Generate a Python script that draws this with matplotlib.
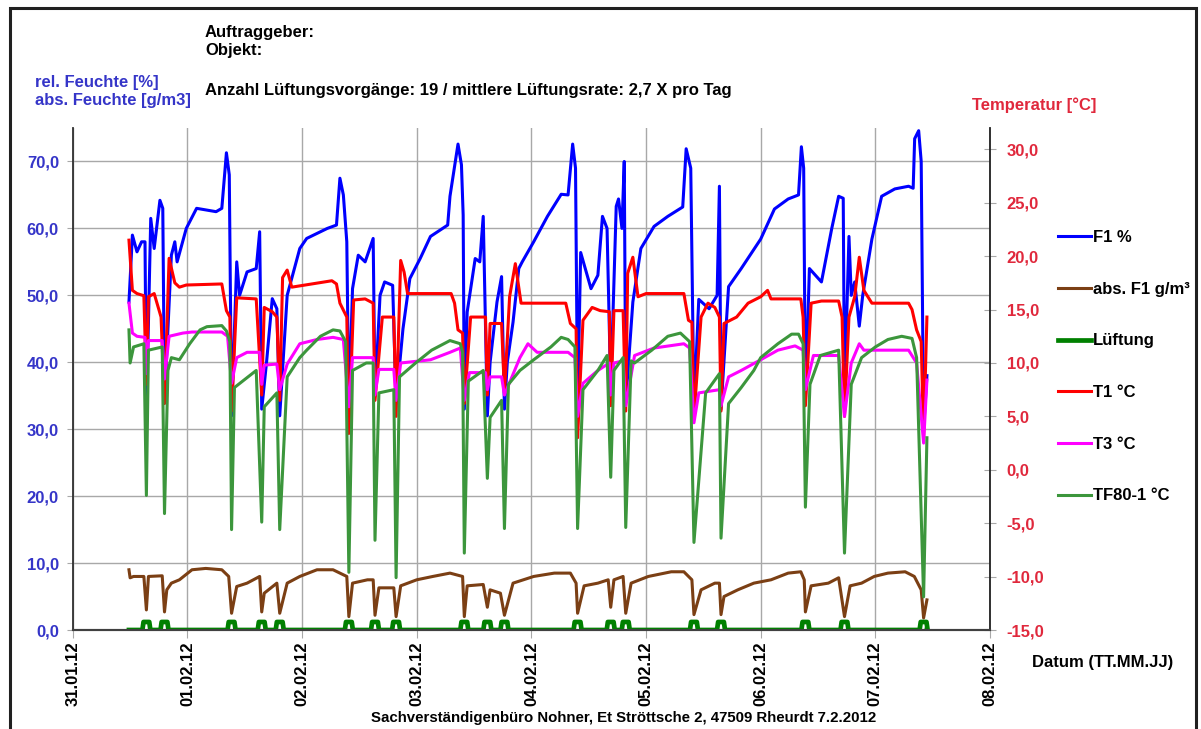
import matplotlib
matplotlib.use("Agg")
import matplotlib.pyplot as plt
from matplotlib.patches import Rectangle
from matplotlib.ticker import FixedLocator, FuncFormatter

plt.rcParams['font.family'] = ['Liberation Sans', 'DejaVu Sans']
plt.rcParams['font.weight'] = 'bold'

# x axis: days after 31.01.12 00:00
date_labels = ["31.01.12", "01.02.12", "02.02.12", "03.02.12", "04.02.12",
               "05.02.12", "06.02.12", "07.02.12", "08.02.12"]

# ventilation events (Lüftung), days
vent_times = [0.642, 0.80, 1.385, 1.648, 1.805, 2.408, 2.636, 2.82, 3.415, 3.616,
              3.765, 4.403, 4.692, 4.823, 5.418, 5.654, 6.39, 6.731, 7.421]
vent_level = 1.2

# F1 rel. humidity [%]
t_f1 = [0.49, 0.52, 0.56, 0.60, 0.63, 0.642, 0.66, 0.68, 0.71, 0.76, 0.785,
        0.80, 0.86, 0.89, 0.91, 0.99, 1.08, 1.25, 1.30, 1.34, 1.365,
        1.385, 1.43, 1.455, 1.52, 1.60, 1.63,
        1.648, 1.69, 1.74, 1.78,
        1.805, 1.87, 1.98, 2.04, 2.22, 2.30, 2.33, 2.36, 2.39,
        2.408, 2.44, 2.49, 2.55, 2.62,
        2.636, 2.68, 2.72, 2.79,
        2.82, 2.88, 2.94, 3.03, 3.12, 3.27, 3.29, 3.36, 3.39, 3.405,
        3.415, 3.44, 3.51, 3.55, 3.58,
        3.616, 3.64, 3.70, 3.74,
        3.765, 3.79, 3.84, 3.89, 3.92, 4.02, 4.14, 4.26, 4.32, 4.36, 4.385,
        4.403, 4.43, 4.52, 4.58, 4.62, 4.66,
        4.692, 4.74, 4.76, 4.79, 4.81,
        4.823, 4.885, 4.955, 5.07, 5.19, 5.32, 5.35, 5.39,
        5.418, 5.46, 5.55, 5.62, 5.64,
        5.654, 5.72, 5.83, 6.00, 6.12, 6.24, 6.33, 6.355, 6.375,
        6.39, 6.425, 6.53, 6.62, 6.68, 6.72,
        6.731, 6.77, 6.79, 6.82, 6.86, 6.89, 6.97, 7.055, 7.17, 7.29, 7.33, 7.343, 7.378, 7.40,
        7.421, 7.45]
f1 = [49, 59, 56.5, 58, 58, 33, 46, 61.5, 57, 64.2, 63,
      34, 56, 58, 55, 60, 63, 62.5, 63, 71.3, 68,
      32, 55, 50, 53.5, 54, 59.5,
      33, 40, 49.5, 48,
      32, 50, 57, 58.5, 60, 60.5, 67.5, 65, 58,
      33, 51, 56, 55, 58.5,
      35, 50, 52, 51.5,
      34, 45, 52.5, 55.5, 58.8, 60.5, 64.8, 72.6, 69.5, 62,
      33, 47.5, 55.5, 55, 61.8,
      32, 40, 49, 52.8,
      33, 40, 46, 54, 55, 58, 61.8, 65.1, 65, 72.6, 69,
      33, 56.4, 51, 53, 61.8, 60,
      36, 63.3, 64.4, 60, 70,
      34, 49, 57, 60.3, 61.8, 63.2, 71.9, 69,
      33, 49.4, 48, 50, 66.3,
      33, 51.3, 54, 58.4, 62.9, 64.4, 65, 72.2, 69,
      34, 54, 52, 60, 64.8, 64.5,
      35, 58.8, 50, 52, 45.4, 50, 58.4, 64.8, 65.9, 66.3, 66, 73.4, 74.6, 70,
      30, 38]

# abs. F1 [g/m³]
t_abs = [0.49, 0.50, 0.53, 0.62, 0.642, 0.66, 0.78,
         0.80, 0.82, 0.86, 0.93, 1.04, 1.16, 1.30, 1.36,
         1.385, 1.43, 1.52, 1.63,
         1.648, 1.67, 1.78,
         1.805, 1.87, 1.98, 2.13, 2.27, 2.39,
         2.408, 2.44, 2.57, 2.62,
         2.636, 2.67, 2.80,
         2.82, 2.86, 3.00, 3.14, 3.29, 3.40,
         3.415, 3.44, 3.58,
         3.616, 3.64, 3.73,
         3.765, 3.84, 4.02, 4.20, 4.34, 4.39,
         4.403, 4.46, 4.58, 4.67,
         4.692, 4.72, 4.80,
         4.823, 4.87, 5.02, 5.22, 5.33, 5.40,
         5.418, 5.48, 5.60, 5.64,
         5.654, 5.68, 5.80, 5.94, 6.09, 6.24, 6.35, 6.38,
         6.39, 6.44, 6.59, 6.68,
         6.731, 6.78, 6.88, 6.99, 7.11, 7.26, 7.34, 7.40,
         7.421, 7.45]
abs_f1 = [9.0, 7.8, 8.0, 8.0, 3.0, 8.0, 8.1,
          2.7, 6.0, 7.0, 7.5, 9.0, 9.2, 9.0, 8.0,
          2.5, 6.5, 7.0, 8.0,
          2.7, 5.5, 7.0,
          2.5, 7.0, 8.0, 9.0, 9.0, 8.0,
          2.0, 7.0, 7.5, 7.5,
          2.2, 6.3, 6.3,
          2.0, 6.6, 7.5, 8.0, 8.5, 8.0,
          2.0, 6.6, 6.8,
          3.4, 6.0, 5.5,
          2.2, 7.0, 8.0, 8.5, 8.5, 7.0,
          2.5, 6.6, 7.0, 7.5,
          3.4, 7.5, 8.0,
          2.5, 7.0, 8.0, 8.7, 8.7, 7.5,
          2.3, 6.0, 7.0, 7.0,
          2.3, 5.0, 6.0, 7.0, 7.5, 8.5, 8.7, 7.5,
          2.7, 6.6, 7.0, 7.8,
          2.0, 6.6, 7.0, 8.0, 8.5, 8.7, 8.0, 6.0,
          1.8, 4.5]

# T1 [°C]
t_t1 = [0.49, 0.52, 0.56, 0.62, 0.642, 0.66, 0.71, 0.77,
        0.80, 0.84, 0.89, 0.93, 0.99, 1.30, 1.34, 1.37,
        1.385, 1.43, 1.60,
        1.648, 1.67, 1.74, 1.78,
        1.805, 1.83, 1.87, 1.91, 2.26, 2.30, 2.33, 2.39,
        2.408, 2.45, 2.55, 2.62,
        2.636, 2.70, 2.80,
        2.82, 2.86, 2.89, 2.92, 3.30, 3.33, 3.36, 3.40,
        3.415, 3.47, 3.60,
        3.616, 3.64, 3.74,
        3.765, 3.81, 3.86, 3.91, 4.30, 4.34, 4.39,
        4.403, 4.45, 4.53, 4.60, 4.68,
        4.692, 4.72, 4.80,
        4.823, 4.84, 4.885, 4.93, 5.00, 5.33, 5.37, 5.40,
        5.418, 5.48, 5.54, 5.60, 5.64,
        5.654, 5.68, 5.79, 5.89, 6.00, 6.06, 6.09, 6.35, 6.37,
        6.39, 6.44, 6.53, 6.68, 6.71,
        6.731, 6.77, 6.82, 6.86, 6.90, 6.97, 7.29, 7.32, 7.36, 7.40,
        7.421, 7.45]
t1 = [21.5, 16.8, 16.5, 16.3, 8.0, 16.2, 16.5, 14.3,
      6.2, 19.8, 17.5, 17.1, 17.3, 17.4, 14.9, 14.3,
      5.5, 16.1, 16.0,
      7.0, 15.2, 14.8, 14.3,
      6.5, 18.0, 18.7, 17.1, 17.7, 17.4, 15.6, 14.3,
      3.4, 15.9, 16.0, 15.6,
      6.5, 14.3, 14.3,
      5.0, 19.6, 18.5, 16.5, 16.5, 15.6, 13.1, 12.8,
      6.2, 14.3, 14.3,
      7.0, 13.7, 13.7,
      7.2, 16.2, 19.3, 15.6, 15.6, 13.7, 13.2,
      3.0, 14.0, 15.2, 14.9, 14.8,
      6.0, 14.9, 14.9,
      5.5, 18.4, 19.9, 16.2, 16.5, 16.5, 14.0, 13.8,
      4.9, 14.3, 15.6, 15.2, 14.3,
      5.5, 13.7, 14.3, 15.6, 16.2, 16.8, 16.0, 16.0, 14.3,
      6.0, 15.6, 15.8, 15.8, 14.3,
      5.0, 14.3, 16.2, 19.9, 16.8, 15.6, 15.6, 15.0, 13.1, 12.0,
      3.0, 14.3]

# T3 [°C]
t_t3 = [0.49, 0.52, 0.56, 0.63, 0.642, 0.66, 0.78,
        0.80, 0.84, 0.96, 1.04, 1.30, 1.35,
        1.385, 1.43, 1.52, 1.63,
        1.648, 1.67, 1.78,
        1.805, 1.87, 1.98, 2.13, 2.27, 2.36,
        2.408, 2.44, 2.62,
        2.636, 2.67, 2.80,
        2.82, 2.86, 3.12, 3.29, 3.38,
        3.415, 3.46, 3.60,
        3.616, 3.64, 3.74,
        3.765, 3.90, 3.97, 4.05, 4.32, 4.38,
        4.403, 4.45, 4.58, 4.68,
        4.692, 4.72, 4.80,
        4.823, 4.90, 5.07, 5.33, 5.38,
        5.418, 5.46, 5.64,
        5.654, 5.72, 5.83, 6.00, 6.15, 6.30, 6.37,
        6.39, 6.46, 6.68,
        6.731, 6.79, 6.86, 6.90, 7.29, 7.36,
        7.421, 7.45]
t3 = [15.6, 12.8, 12.5, 12.4, 9.0, 12.1, 12.1,
      8.5, 12.5, 12.8, 12.9, 12.9, 12.5,
      8.1, 10.5, 11.0, 11.0,
      8.0, 9.8, 9.9,
      7.5, 9.9, 11.8, 12.2, 12.4, 12.2,
      5.9, 10.5, 10.5,
      7.0, 9.4, 9.4,
      6.5, 10.0, 10.3, 11.0, 11.4,
      6.5, 9.1, 9.1,
      7.5, 8.7, 8.7,
      7.0, 10.5, 11.8, 11.0, 11.0, 10.5,
      5.0, 8.1, 9.3, 10.0,
      7.0, 10.0, 10.2,
      6.0, 10.7, 11.4, 11.8, 11.4,
      4.4, 7.2, 7.5,
      6.0, 8.7, 9.3, 10.3, 11.2, 11.6, 11.2,
      7.5, 10.7, 10.7,
      5.0, 10.0, 11.8, 11.2, 11.2, 10.0,
      2.5, 8.4]

# TF80-1 [°C]
t_tf = [0.49, 0.50, 0.53, 0.62, 0.642, 0.66, 0.78,
        0.80, 0.83, 0.86, 0.93, 1.02, 1.11, 1.17, 1.30, 1.34, 1.37,
        1.385, 1.41, 1.60,
        1.648, 1.67, 1.78,
        1.805, 1.87, 1.98, 2.04, 2.16, 2.27, 2.33, 2.38,
        2.408, 2.44, 2.56, 2.62,
        2.636, 2.67, 2.80,
        2.82, 2.85, 2.99, 3.13, 3.29, 3.38, 3.40,
        3.415, 3.45, 3.58,
        3.616, 3.64, 3.74,
        3.765, 3.80, 3.90, 4.02, 4.17, 4.26, 4.32, 4.38,
        4.403, 4.45, 4.58, 4.66,
        4.692, 4.72, 4.80,
        4.823, 4.87, 4.90, 5.05, 5.19, 5.30, 5.38,
        5.418, 5.52, 5.64,
        5.654, 5.72, 5.83, 5.94, 6.00, 6.15, 6.27, 6.33, 6.37,
        6.39, 6.43, 6.52, 6.68,
        6.731, 6.79, 6.88, 7.00, 7.11, 7.23, 7.32, 7.36,
        7.421, 7.45]
tf80 = [13.1, 10.0, 11.5, 11.8, -2.4, 11.2, 11.5,
        -4.1, 9.3, 10.5, 10.3, 11.8, 13.1, 13.4, 13.5, 13.0, 12.0,
        -5.6, 7.7, 9.3,
        -4.9, 5.9, 7.2,
        -5.6, 8.7, 10.5, 11.2, 12.5, 13.1, 13.0, 12.0,
        -9.6, 9.3, 10.0, 10.0,
        -6.6, 7.2, 7.5,
        -10.1, 8.7, 10.0, 11.2, 12.1, 11.8, 11.0,
        -7.8, 8.3, 9.3,
        -0.8, 4.9, 6.5,
        -5.5, 8.0, 9.3, 10.3, 11.5, 12.4, 12.2, 11.5,
        -5.5, 7.5, 9.3, 10.7,
        -0.7, 9.3, 10.5,
        -5.4, 10.2, 10.0, 11.2, 12.5, 12.8, 12.0,
        -6.8, 7.2, 9.0,
        -6.4, 6.2, 7.7, 9.3, 10.5, 11.8, 12.7, 12.7, 11.8,
        -3.5, 8.0, 10.7, 11.2,
        -7.8, 8.0, 10.5, 11.5, 12.2, 12.5, 12.3, 10.5,
        -11.9, 3.0]

blue_lbl = '#3535c8'
red_lbl = '#e0283c'
grid_c = '#a8a8a8'

fig = plt.figure(figsize=(12.01, 7.29), dpi=100)
ax = fig.add_axes([0.0606, 0.1358, 0.7637, 0.6886])
ax2 = ax.twinx()

# Lüftung as flat line with a small bump per event
lx, ly = [t_f1[0]], [0.0]
for v in vent_times:
    lx += [v - 0.035, v - 0.025, v + 0.025, v + 0.035]
    ly += [0.0, vent_level, vent_level, 0.0]
lx.append(t_f1[-1])
ly.append(0.0)

h1, = ax.plot(t_f1, f1, color='#0000ff', lw=2.2, label='F1 %')
h2, = ax.plot(t_abs, abs_f1, color='#7b3f14', lw=2.2, label='abs. F1 g/m³')
h3, = ax.plot(lx, ly, color='#008000', lw=3.4, label='Lüftung', zorder=3)
h4, = ax2.plot(t_t1, t1, color='#ff0000', lw=2.2, label='T1 °C')
h5, = ax2.plot(t_t3, t3, color='#ff00ff', lw=2.2, label='T3 °C')
h6, = ax2.plot(t_tf, tf80, color='#3c963c', lw=2.2, label='TF80-1 °C')

ax.set_xlim(0, 8)
ax.set_ylim(0, 75)
ax2.set_ylim(-15, 32)

comma = FuncFormatter(lambda v, p: f"{v:.1f}".replace('.', ','))

ax.xaxis.set_major_locator(FixedLocator(range(len(date_labels))))
ax.set_xticklabels(date_labels, rotation=90, fontsize=12, fontweight='bold')
ax.set_yticks(range(0, 71, 10))
ax.yaxis.set_major_formatter(comma)
ax2.set_yticks(range(-15, 31, 5))
ax2.yaxis.set_major_formatter(comma)

ax.tick_params(axis='x', direction='out', length=6, color=grid_c, pad=2)
ax.tick_params(axis='y', direction='out', length=4, color=grid_c, pad=6,
               labelcolor=blue_lbl, labelsize=12)
ax2.tick_params(axis='y', direction='inout', length=8, color=grid_c,
                pad=8, labelcolor=red_lbl, labelsize=12)
for lab in ax.get_yticklabels() + ax2.get_yticklabels():
    lab.set_fontweight('bold')

ax.grid(True, color=grid_c, lw=1)
for a in (ax, ax2):
    a.spines['top'].set_visible(False)
    a.spines['bottom'].set_color('#404040')
    a.spines['bottom'].set_linewidth(1.5)
ax.spines['left'].set_color('#303030')
ax.spines['left'].set_linewidth(1.3)
ax2.spines['left'].set_visible(False)
ax.spines['right'].set_visible(False)
ax2.spines['right'].set_color('#202020')
ax2.spines['right'].set_linewidth(1.3)

fig.legend(handles=[h1, h2, h3, h4, h5, h6], loc='upper left',
           bbox_to_anchor=(1058 / 1201, 1 - 230 / 729), frameon=False,
           handlelength=2.0, handletextpad=0.1,
           labelspacing=2.2, borderpad=0, borderaxespad=0,
           prop={'weight': 'bold', 'size': 12})

def ftext(x, y, s, **kw):
    fig.text(x / 1201, 1 - y / 729, s, va='center', fontweight='bold', **kw)

ftext(205, 33, "Auftraggeber:", fontsize=12)
ftext(205, 50, "Objekt:", fontsize=12)
ftext(205, 90, "Anzahl Lüftungsvorgänge: 19 / mittlere Lüftungsrate: 2,7 X pro Tag", fontsize=12)
ftext(35, 83, "rel. Feuchte [%]", fontsize=12, color=blue_lbl)
ftext(35, 100, "abs. Feuchte [g/m3]", fontsize=12, color=blue_lbl)
ftext(972, 105, "Temperatur [°C]", fontsize=12, color=red_lbl)
ftext(1032, 662, "Datum (TT.MM.JJ)", fontsize=12)
fig.text(624 / 1201, 1 - 718 / 729,
         "Sachverständigenbüro Nohner, Et Ströttsche 2, 47509 Rheurdt 7.2.2012",
         ha='center', va='center', fontsize=10.8, fontweight='bold')

fig.patches.append(Rectangle((10 / 1201, -0.02), 1186 / 1201, 1.02 - 8 / 729,
                             transform=fig.transFigure, fill=False,
                             edgecolor='#202020', lw=2.2))

fig.savefig('out.png', dpi=100)
